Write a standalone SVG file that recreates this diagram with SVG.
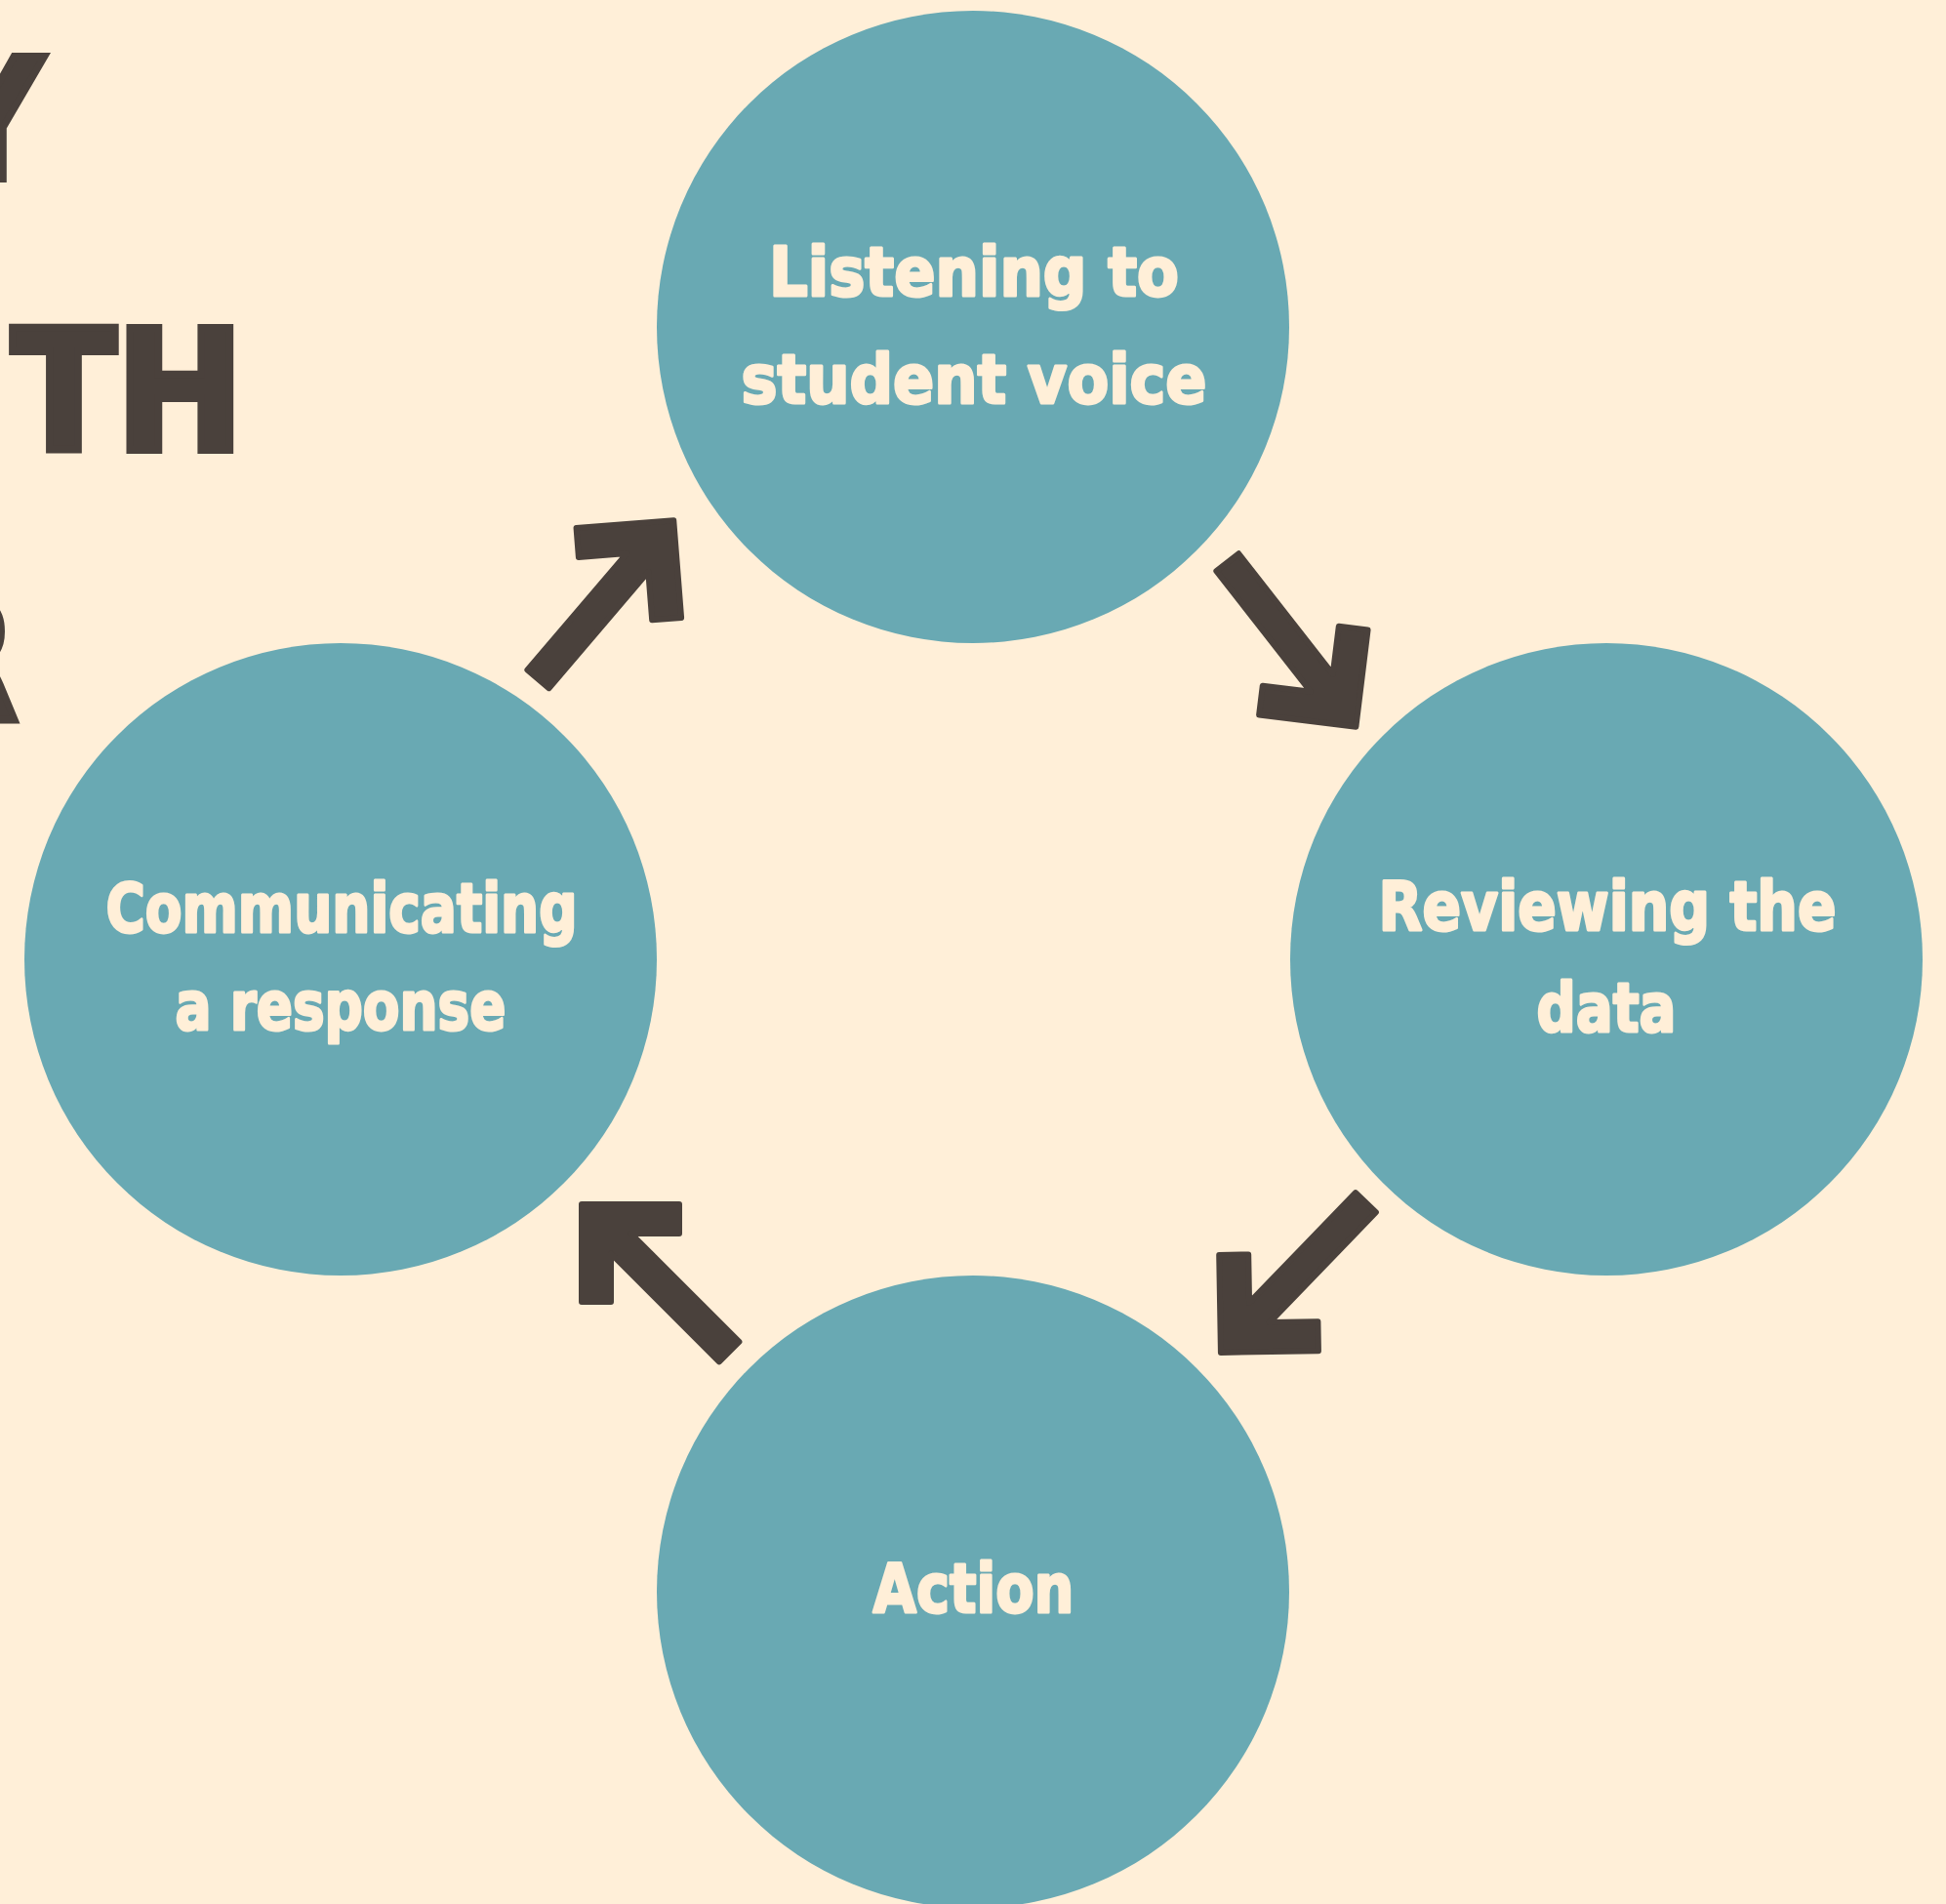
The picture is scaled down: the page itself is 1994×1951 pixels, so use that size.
<svg xmlns="http://www.w3.org/2000/svg" xmlns:xlink="http://www.w3.org/1999/xlink" width="1994" height="1951" viewBox="0 0 1994 1951">
  <style>
    .bg { fill: #FFEFD8; }
    .node circle { fill: #69A9B3; }
    .label { font-family: "DejaVu Sans", "Liberation Sans", sans-serif; font-weight: bold; font-size: 70px; fill: #FFEFD8; stroke: #FFEFD8; stroke-width: 3; stroke-linejoin: round; text-anchor: middle; }
    .title { font-family: "DejaVu Sans", "Liberation Sans", sans-serif; font-weight: bold; font-size: 172px; fill: #4A413C; stroke: #4A413C; stroke-width: 8; }
    .arrow { fill: #4A413C; stroke: #4A413C; stroke-width: 6; stroke-linejoin: round; }
  </style>
  <defs>
    <path id="arr" d="M-3,3 L-3,103 L-33,103 L-33,53.5 L-143.9,164.4 L-164.4,143.9 L-53.5,33 L-103,33 L-103,3 Z"/>
  </defs>
  <rect class="bg" x="0" y="0" width="1994" height="1951"/>

  <g id="title">
    <text class="title" x="-66" y="183" textLength="110" lengthAdjust="spacingAndGlyphs">Y</text>
    <text class="title" x="12" y="461" textLength="238" lengthAdjust="spacingAndGlyphs">TH</text>
    <text class="title" x="-94" y="737" textLength="112" lengthAdjust="spacingAndGlyphs">R</text>
  </g>

  <g id="connectors">
    <use class="arrow" xlink:href="#arr" transform="translate(693,530) rotate(-4.5)"/>
    <use class="arrow" xlink:href="#arr" transform="translate(1392,748) rotate(97)"/>
    <use class="arrow" xlink:href="#arr" transform="translate(1248,1389) rotate(179)"/>
    <use class="arrow" xlink:href="#arr" transform="translate(593,1231) rotate(-90)"/>
  </g>

  <g id="node-listening" class="node">
    <circle cx="997" cy="335" r="324"/>
    <text class="label" x="998" y="303" textLength="420" lengthAdjust="spacingAndGlyphs">Listening to</text>
    <text class="label" x="998" y="413" textLength="477" lengthAdjust="spacingAndGlyphs">student voice</text>
  </g>

  <g id="node-reviewing" class="node">
    <circle cx="1646" cy="983" r="324"/>
    <text class="label" x="1647" y="953" textLength="469" lengthAdjust="spacingAndGlyphs">Reviewing the</text>
    <text class="label" x="1646" y="1057" textLength="143" lengthAdjust="spacingAndGlyphs">data</text>
  </g>

  <g id="node-action" class="node">
    <circle cx="997" cy="1631" r="324"/>
    <text class="label" x="997.5" y="1652" textLength="206" lengthAdjust="spacingAndGlyphs">Action</text>
  </g>

  <g id="node-communicating" class="node">
    <circle cx="349" cy="983" r="324"/>
    <text class="label" x="350" y="955" textLength="483" lengthAdjust="spacingAndGlyphs">Communicating</text>
    <text class="label" x="349" y="1055" textLength="339" lengthAdjust="spacingAndGlyphs">a response</text>
  </g>
</svg>
